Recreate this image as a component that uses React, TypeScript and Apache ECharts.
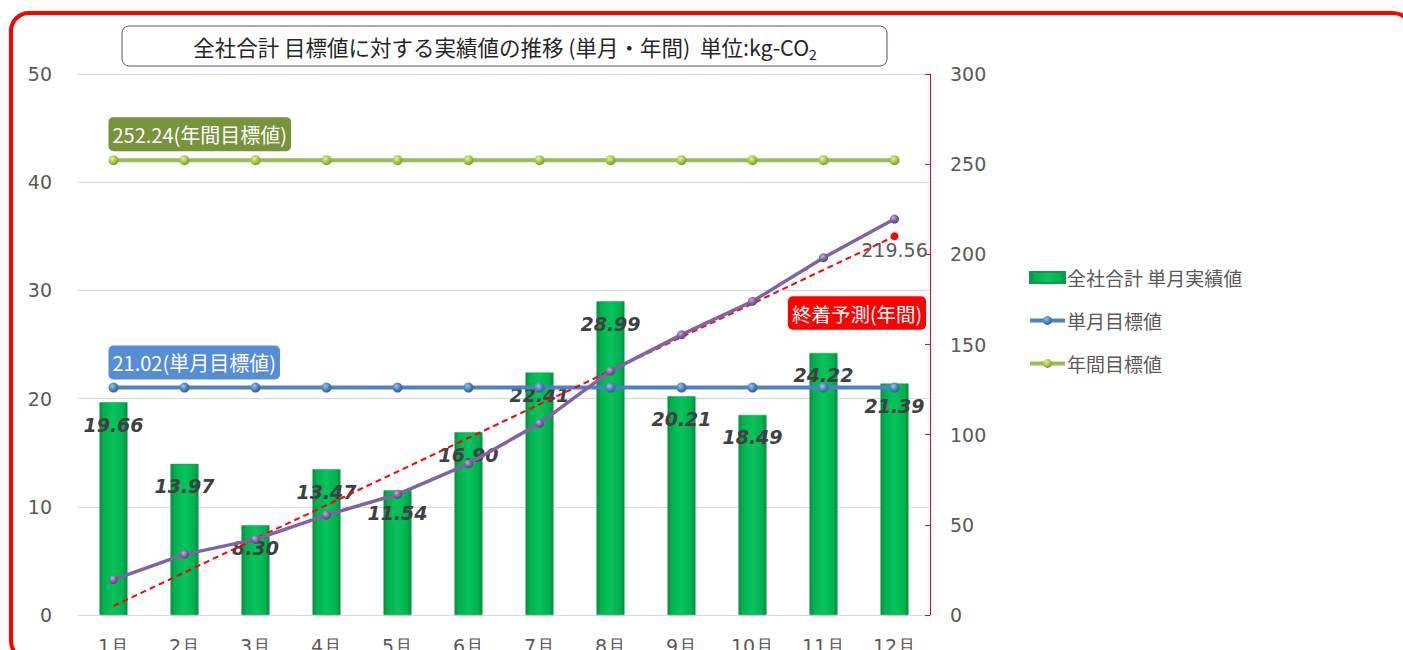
import React, { useEffect, useRef } from "react";
import * as echarts from "echarts";

const categories = ["1月", "2月", "3月", "4月", "5月", "6月", "7月", "8月", "9月", "10月", "11月", "12月"];
const monthlyActual = [19.66, 13.97, 8.3, 13.47, 11.54, 16.9, 22.41, 28.99, 20.21, 18.49, 24.22, 21.39];
const monthlyTarget = [21.02, 21.02, 21.02, 21.02, 21.02, 21.02, 21.02, 21.02, 21.02, 21.02, 21.02, 21.02];
const annualTarget = [252.24, 252.24, 252.24, 252.24, 252.24, 252.24, 252.24, 252.24, 252.24, 252.24, 252.24, 252.24];
const cumulativeActual = [19.66, 33.63, 41.93, 55.4, 66.94, 83.84, 106.25, 135.24, 155.45, 173.94, 198.16, 219.56];
const annualForecast = [5.0, 23.6, 42.3, 60.9, 79.5, 98.2, 116.8, 135.4, 154.1, 172.7, 191.4, 210.0];
const forecastEndLabel = "219.56";
const leftAxis = { min: 0, max: 50, interval: 10 };
const rightAxis = { min: 0, max: 300, interval: 50 };

const seriesNames = {
  bar: "全社合計 単月実績値",
  monthly: "単月目標値",
  annual: "年間目標値",
  cumulative: "累計実績値",
  forecast: "終着予測(年間)",
};

const ball = (light: string, mid: string, dark: string) => ({
  type: "radial",
  x: 0.38,
  y: 0.35,
  r: 0.75,
  colorStops: [
    { offset: 0, color: light },
    { offset: 0.5, color: mid },
    { offset: 1, color: dark },
  ],
});

export default function App() {
  const ref = useRef<HTMLDivElement>(null);
  useEffect(() => {
    document.body.style.margin = "0";
    const chart = echarts.init(ref.current!, null, { renderer: "svg" });
    const labelFont = "Noto Sans CJK JP";
    const numFont = "DejaVu Sans";
    const option: any = {
      animation: false,
      backgroundColor: "#ffffff",
      grid: { left: 78, right: 473, top: 74, bottom: 35, containLabel: false, outerBoundsMode: "none" },
      legend: {
        data: [
          { name: seriesNames.bar, icon: "rect" },
          { name: seriesNames.monthly },
          { name: seriesNames.annual },
        ],
        orient: "vertical",
        left: 1023,
        top: 263,
        itemWidth: 35,
        itemHeight: 11,
        itemGap: 24,
        lineStyle: { width: 4 },
        textStyle: { fontSize: 19, color: "#595959", fontFamily: labelFont, padding: [0, 0, 0, -3] },
      },
      graphic: [
        {
          type: "rect",
          silent: true,
          shape: { x: 11, y: 13, width: 1400, height: 646, r: 18 },
          style: { fill: "none", stroke: "#ff0000", lineWidth: 4 },
        },
        {
          type: "rect",
          silent: true,
          shape: { x: 122, y: 26, width: 765, height: 40, r: 7 },
          style: { fill: "#ffffff", stroke: "#4a5a6e", lineWidth: 1 },
        },
        {
          type: "text",
          silent: true,
          x: 505,
          y: 46,
          style: {
            text: "全社合計 目標値に対する実績値の推移 (単月・年間)  単位:kg-CO{sub|2}",
            align: "center",
            verticalAlign: "middle",
            fontSize: 21.5,
            lineHeight: 30,
            fill: "#262626",
            fontFamily: labelFont,
            rich: {
              sub: { fontSize: 14, lineHeight: 12, verticalAlign: "bottom", fill: "#262626", fontFamily: labelFont },
            },
          },
        },
        {
          type: "text",
          silent: true,
          x: 857,
          y: 313,
          style: {
            text: "終着予測(年間)",
            align: "center",
            verticalAlign: "middle",
            fontSize: 19.5,
            fill: "#ffffff",
            fontFamily: labelFont,
            backgroundColor: "#ff0000",
            borderRadius: 5,
            padding: [7, 4],
          },
        },
      ],
      xAxis: {
        type: "category",
        data: categories,
        boundaryGap: true,
        axisLine: { show: true, lineStyle: { color: "#d9d9d9", width: 1 } },
        axisTick: { show: false },
        axisLabel: { fontSize: 19, color: "#595959", margin: 21, fontFamily: numFont },
      },
      yAxis: [
        {
          type: "value",
          min: leftAxis.min,
          max: leftAxis.max,
          interval: leftAxis.interval,
          axisLine: { show: false },
          axisTick: { show: false },
          axisLabel: { fontSize: 19, color: "#595959", margin: 26, fontFamily: numFont },
          splitLine: { show: true, lineStyle: { color: "#d9d9d9", width: 1 } },
        },
        {
          type: "value",
          position: "right",
          min: rightAxis.min,
          max: rightAxis.max,
          interval: rightAxis.interval,
          axisLine: { show: true, lineStyle: { color: "#ff0000", width: 1 } },
          axisTick: { show: true, inside: true, length: 5, lineStyle: { color: "#ff0000" } },
          axisLabel: { fontSize: 19, color: "#595959", margin: 20, fontFamily: numFont },
          splitLine: { show: false },
        },
      ],
      series: [
        {
          name: seriesNames.bar,
          type: "bar",
          yAxisIndex: 0,
          data: monthlyActual,
          barWidth: 28,
          z: 1,
          itemStyle: {
            color: {
              type: "linear",
              x: 0,
              y: 0,
              x2: 1,
              y2: 0,
              colorStops: [
                { offset: 0, color: "#0a8c40" },
                { offset: 0.14, color: "#00b050" },
                { offset: 0.5, color: "#08c45c" },
                { offset: 0.86, color: "#00b050" },
                { offset: 1, color: "#0a8c40" },
              ],
            },
            borderColor: "#0e9a4a",
            borderWidth: 0.5,
          },
          label: {
            show: true,
            position: "insideTop",
            distance: 13,
            formatter: (p: any) => Number(p.value).toFixed(2),
            fontSize: 19,
            fontWeight: "bold",
            fontStyle: "italic",
            color: "#404040",
            fontFamily: numFont,
          },
        },
        {
          name: seriesNames.monthly,
          type: "line",
          yAxisIndex: 0,
          z: 3,
          data: monthlyTarget.map((v, i) =>
            i === 0
              ? {
                  value: v,
                  label: {
                    show: true,
                    position: "top",
                    align: "left",
                    distance: 3,
                    offset: [-5, 0],
                    formatter: (p: any) => `${Number(p.value).toFixed(2)}(${seriesNames.monthly})`,
                    fontSize: 20,
                    color: "#ffffff",
                    fontFamily: labelFont,
                    backgroundColor: "#558ed5",
                    borderRadius: 5,
                    padding: [7, 4],
                  },
                }
              : v
          ),
          symbol: "circle",
          symbolSize: 10,
          lineStyle: { color: "#4f81bd", width: 4 },
          itemStyle: { color: ball("#9cc2f0", "#4f81bd", "#2c5487") },
        },
        {
          name: seriesNames.annual,
          type: "line",
          yAxisIndex: 1,
          z: 3,
          data: annualTarget.map((v, i) =>
            i === 0
              ? {
                  value: v,
                  label: {
                    show: true,
                    position: "top",
                    align: "left",
                    distance: 4,
                    offset: [-5, 0],
                    formatter: (p: any) => `${Number(p.value).toFixed(2)}(${seriesNames.annual})`,
                    fontSize: 20,
                    color: "#ffffff",
                    fontFamily: labelFont,
                    backgroundColor: "#77933c",
                    borderRadius: 5,
                    padding: [7, 4],
                  },
                }
              : v
          ),
          symbol: "circle",
          symbolSize: 10,
          lineStyle: { color: "#9bbb59", width: 4 },
          itemStyle: { color: ball("#e2f29a", "#a8c64a", "#6e8c24") },
        },
        {
          name: seriesNames.forecast,
          type: "line",
          yAxisIndex: 1,
          z: 4,
          data: annualForecast.map((v, i) =>
            i === annualForecast.length - 1
              ? {
                  value: v,
                  symbol: "circle",
                  symbolSize: 8,
                  label: {
                    show: true,
                    position: "bottom",
                    distance: 0,
                    formatter: forecastEndLabel,
                    fontSize: 19,
                    color: "#595959",
                    fontFamily: numFont,
                  },
                }
              : { value: v, symbol: "none" }
          ),
          symbol: "circle",
          symbolSize: 8,
          lineStyle: { color: "#ff0000", width: 2, type: [6, 4] },
          itemStyle: { color: "#ff0000" },
        },
        {
          name: seriesNames.cumulative,
          type: "line",
          yAxisIndex: 1,
          z: 5,
          data: cumulativeActual,
          symbol: "circle",
          symbolSize: 9,
          lineStyle: { color: "#8064a2", width: 3.5 },
          itemStyle: { color: ball("#c4aee6", "#8064a2", "#4e3672") },
        },
      ],
    };
    chart.setOption(option);
    return () => chart.dispose();
  }, []);
  return <div ref={ref} style={{ width: 1403, height: 650 }} />;
}
